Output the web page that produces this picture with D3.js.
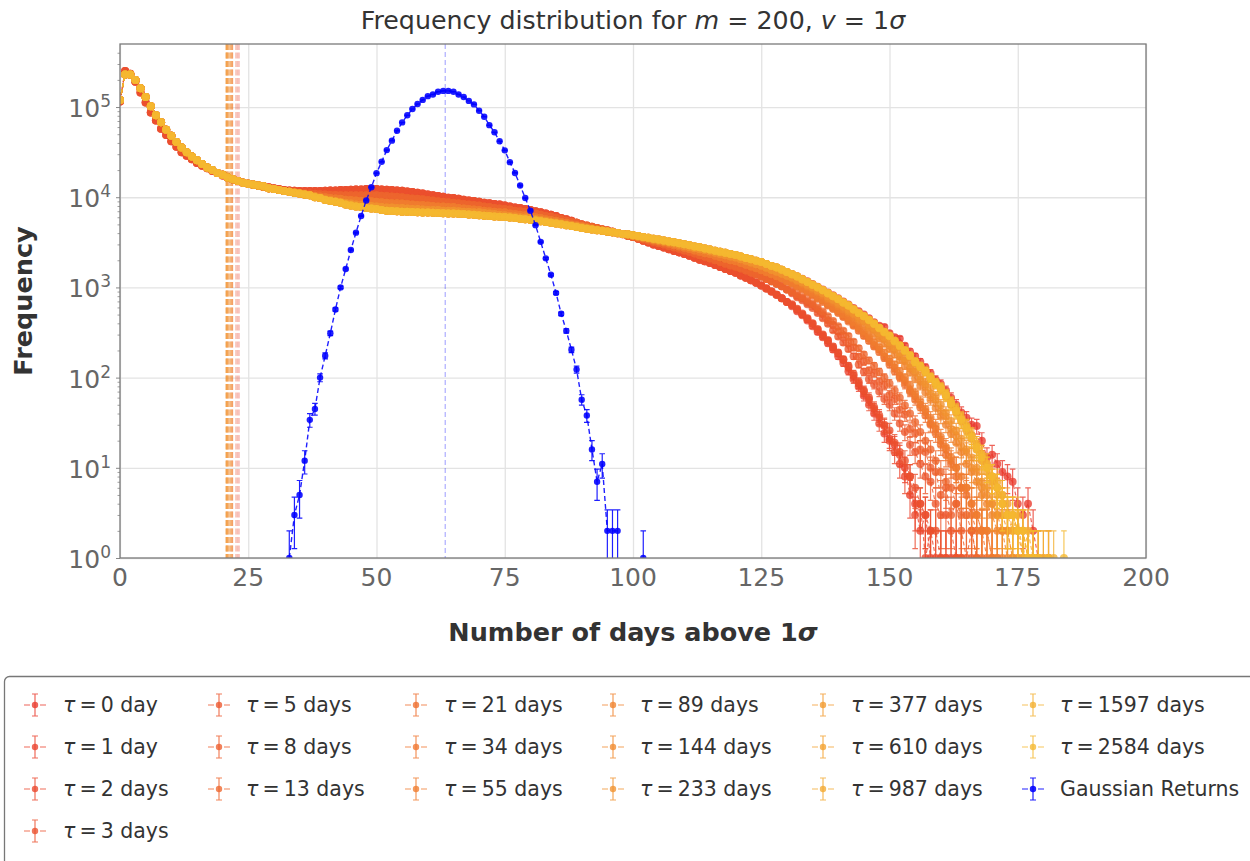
<!DOCTYPE html>
<html>
<head>
<meta charset="utf-8">
<script src="https://cdn.jsdelivr.net/npm/d3@7"></script>
<style>
  body { margin: 0; background: #fff; }
  svg { font-family: "DejaVu Sans", sans-serif; }
</style>
</head>
<body>
<svg></svg>
<script>
const width = 1250;
const height = 861;

// ---- data (counts per number of days) ----
const tauValues = [0, 1, 2, 3, 5, 8, 13, 21, 34, 55, 89, 144, 233, 377, 610, 987, 1597, 2584];
const tauMeans = [21.9, 23.2, 22.9, 22.6, 21.9, 21.7, 21.5, 21.2, 21.0, 20.9, 20.8, 20.7, 20.7, 20.8, 21.0, 21.3, 21.6, 21.9];

// days 0-24
const headLong = [120000, 229000, 229000, 200000, 162000, 129000, 102000, 81000, 68000, 56000,
  48000, 41000, 35500, 31600, 28200, 25700, 23400, 21400, 20000, 18600, 17800, 16600, 15800, 15100, 14500];
const headShort = [115000, 251000, 234000, 191000, 145000, 112000, 87000, 71000, 57500, 49000,
  41700, 36300, 31600, 28800, 26300, 24000, 22400, 20900, 19500, 18600, 17400, 16600, 15800, 15100, 14500];

// days 25-130
const bodyA = [14100, 13800, 13500, 13200, 12900, 12600, 12300, 12000, 11900, 11800,
  11700, 11700, 11700, 11700, 11700, 11800, 11900, 11900, 12000, 12000,
  12100, 12200, 12200, 12300, 12300, 12300, 12200, 12100, 12000, 11900,
  11800, 11600, 11400, 11200, 11000, 10700, 10500, 10300, 10100, 9900,
  9800, 9600, 9400, 9200, 9100, 8900, 8700, 8600, 8400, 8300,
  8100, 7900, 7700, 7600, 7400, 7200, 7000, 6800, 6600, 6400,
  6200, 5900, 5700, 5500, 5200, 5000, 4800, 4650, 4500, 4380,
  4270, 4150, 4000, 3900, 3750, 3630, 3470, 3300, 3150, 3000,
  2880, 2770, 2650, 2540, 2440, 2340, 2240, 2130, 2030, 1950,
  1860, 1770, 1680, 1600, 1520, 1450, 1360, 1280, 1200, 1130,
  1050, 970, 900, 830, 760, 690];
const bodyB = [14100, 13700, 13400, 13000, 12600, 12300, 12000, 11700, 11500, 11400,
  11200, 11100, 11000, 10900, 10800, 10700, 10600, 10600, 10500, 10500,
  10500, 10500, 10500, 10500, 10500, 10500, 10400, 10300, 10200, 10100,
  10000, 9800, 9700, 9600, 9500, 9300, 9200, 9000, 8900, 8800,
  8700, 8600, 8400, 8300, 8200, 8100, 7900, 7800, 7600, 7500,
  7400, 7300, 7100, 7000, 6900, 6800, 6600, 6400, 6200, 6100,
  5900, 5700, 5500, 5300, 5200, 5000, 4850, 4700, 4550, 4400,
  4270, 4130, 4000, 3880, 3750, 3630, 3520, 3400, 3290, 3190,
  3090, 2990, 2880, 2780, 2680, 2570, 2480, 2380, 2280, 2190,
  2090, 2000, 1910, 1830, 1750, 1700, 1620, 1540, 1460, 1390,
  1320, 1240, 1170, 1100, 1030, 950];
const bodyC = [14100, 13700, 13400, 13000, 12600, 12300, 12000, 11700, 11500, 11200,
  11000, 10800, 10600, 10400, 10200, 10000, 9800, 9700, 9600, 9400,
  9300, 9200, 9100, 9000, 9000, 8900, 8800, 8700, 8600, 8600,
  8500, 8400, 8300, 8200, 8200, 8100, 8000, 7900, 7900, 7800,
  7800, 7600, 7500, 7400, 7300, 7200, 7100, 7000, 6900, 6800,
  6800, 6600, 6500, 6400, 6300, 6200, 6000, 5900, 5700, 5600,
  5500, 5300, 5200, 5000, 4900, 4800, 4650, 4500, 4400, 4280,
  4170, 4080, 3980, 3900, 3800, 3720, 3620, 3520, 3420, 3320,
  3240, 3140, 3040, 2940, 2840, 2750, 2660, 2570, 2480, 2400,
  2340, 2250, 2160, 2080, 2000, 1950, 1860, 1780, 1710, 1630,
  1550, 1470, 1400, 1330, 1260, 1170];
const bodyD = [14100, 13700, 13400, 13000, 12600, 12300, 12000, 11700, 11500, 11200,
  11000, 10700, 10500, 10200, 9800, 9500, 9300, 9100, 8900, 8700,
  8500, 8300, 8200, 8100, 8000, 7900, 7800, 7700, 7700, 7600,
  7600, 7500, 7400, 7400, 7300, 7200, 7200, 7200, 7100, 7100,
  7100, 7000, 6900, 6900, 6800, 6800, 6700, 6600, 6500, 6400,
  6300, 6200, 6100, 6000, 5950, 5900, 5750, 5600, 5500, 5350,
  5250, 5100, 5000, 4900, 4800, 4680, 4560, 4450, 4350, 4260,
  4170, 4080, 3990, 3900, 3840, 3760, 3670, 3580, 3500, 3400,
  3310, 3230, 3150, 3060, 2970, 2880, 2800, 2720, 2650, 2580,
  2510, 2430, 2350, 2280, 2200, 2140, 2050, 1970, 1890, 1810,
  1740, 1650, 1560, 1490, 1420, 1350];
const bodyE = [14100, 13800, 13500, 13200, 12600, 12300, 12000, 11700, 11500, 11200,
  11000, 10700, 10500, 10000, 9800, 9300, 9100, 8900, 8700, 8300,
  8100, 7900, 7800, 7600, 7500, 7400, 7200, 7100, 7050, 7000,
  6900, 6900, 6850, 6800, 6780, 6760, 6720, 6690, 6650, 6620,
  6600, 6550, 6500, 6450, 6380, 6300, 6250, 6200, 6120, 6070,
  6030, 5950, 5870, 5780, 5700, 5620, 5520, 5420, 5320, 5220,
  5130, 5010, 4900, 4790, 4680, 4570, 4480, 4380, 4300, 4250,
  4170, 4080, 4000, 3910, 3880, 3800, 3720, 3630, 3550, 3460,
  3390, 3310, 3240, 3160, 3090, 3020, 2940, 2850, 2790, 2700,
  2630, 2550, 2480, 2420, 2350, 2290, 2200, 2120, 2050, 1980,
  1910, 1820, 1730, 1660, 1570, 1480];

// days 131 onwards
const tail0 = [1410, 1330, 1250, 1170, 1090, 1020, 950, 880, 820, 760, 700, 645, 590, 545, 500, 455, 410, 375, 365, 310,
  280, 270, 225, 195, 172, 150, 130, 112, 95, 85, 72, 60, 50, 41, 36, 30, 29, 20, 13, 14, 11, 9, 8, 7, 4, 3, 4, 2, 1, 0, 1];
const tail1 = [640, 545, 505, 430, 395, 320, 295, 240, 215, 172, 158, 118, 104, 79, 63, 57, 40, 36, 24, 21,
  18, 11, 10, 5, 4, 2, 3, 1, 0, 1, 0, 1];
const tail2 = [620, 570, 490, 450, 370, 340, 280, 255, 205, 185, 145, 130, 96, 85, 70, 50, 45, 31, 29, 20,
  15, 14, 8, 8, 3, 4, 1, 2, 1, 0, 1, 0, 1];
const tail3 = [650, 580, 515, 455, 400, 345, 300, 262, 222, 190, 160, 135, 110, 90, 72, 60, 47, 38, 30, 26,
  19, 15, 12, 8, 6, 4, 3, 2, 2, 1, 1, 0, 1, 1];
const tail5 = [860, 780, 720, 650, 590, 520, 455, 395, 335, 285, 245, 208, 172, 140, 116, 96, 84, 70, 58, 50,
  40, 31, 25, 18, 15, 11, 8, 7, 4, 3, 3, 2, 1, 1, 0, 1];
const tail8 = [885, 800, 760, 680, 640, 565, 505, 430, 385, 325, 295, 245, 215, 170, 150, 120, 112, 90, 82, 64,
  58, 44, 39, 27, 24, 16, 15, 10, 9, 5, 6, 3, 4, 2, 1, 2, 1];
const tail13 = [900, 840, 780, 720, 660, 600, 540, 480, 425, 370, 330, 290, 250, 212, 180, 155, 135, 116, 100, 86,
  72, 60, 49, 40, 32, 25, 20, 16, 12, 9, 7, 6, 4, 3, 3, 2, 1, 1];
const tail21 = [1090, 1020, 950, 880, 810, 750, 690, 630, 575, 520, 470, 420, 375, 330, 290, 255, 222, 192, 165, 140,
  118, 100, 84, 70, 57, 47, 38, 30, 24, 18, 14, 11, 8, 6, 5, 3, 2, 2, 1, 1];
const tail34 = [1110, 1030, 975, 895, 835, 760, 710, 640, 590, 540, 480, 440, 385, 350, 305, 270, 230, 205, 172, 150,
  128, 104, 92, 72, 62, 50, 42, 31, 27, 20, 16, 12, 10, 6, 6, 4, 3, 2, 2, 1, 1];
const tail55 = [1120, 1050, 990, 920, 860, 790, 730, 670, 615, 560, 505, 460, 410, 365, 325, 285, 250, 218, 190, 162,
  140, 118, 100, 82, 68, 55, 45, 36, 29, 22, 17, 13, 10, 8, 6, 4, 3, 2, 2, 1, 1, 1];
const tail89 = [1250, 1170, 1090, 1020, 950, 880, 810, 740, 680, 620, 570, 520, 470, 425, 380, 340, 305, 270, 238, 208,
  180, 157, 135, 115, 98, 82, 69, 57, 46, 37, 30, 24, 19, 15, 11, 9, 7, 5, 4, 3, 2, 2, 1, 1];
const tail144 = [1280, 1185, 1130, 1045, 990, 905, 850, 765, 715, 645, 605, 545, 505, 450, 415, 365, 335, 290, 265, 226,
  204, 172, 154, 128, 115, 93, 82, 64, 56, 42, 37, 27, 23, 17, 15, 10, 9, 6, 5, 4, 3, 2, 2, 1, 1];
const tail233 = [1290, 1210, 1140, 1070, 1000, 930, 865, 800, 735, 675, 620, 570, 520, 475, 430, 390, 350, 312, 278, 246,
  216, 190, 165, 143, 123, 105, 89, 75, 62, 50, 41, 33, 26, 21, 16, 13, 10, 7, 6, 4, 3, 3, 2, 1, 1, 1];
const tail377 = [1390, 1315, 1235, 1140, 1075, 995, 935, 850, 805, 735, 685, 625, 575, 515, 485, 430, 400, 350, 325, 285,
  258, 222, 203, 172, 153, 130, 120, 98, 89, 73, 66, 50, 45, 33, 29, 21, 18, 12, 11, 7, 6, 4, 4, 2, 2, 1, 1, 0, 1];
const tail610 = [1405, 1325, 1225, 1155, 1065, 1005, 925, 865, 795, 745, 675, 635, 565, 525, 475, 440, 390, 360, 315, 295,
  250, 230, 196, 178, 147, 136, 115, 103, 84, 79, 62, 54, 41, 36, 26, 23, 16, 14, 9, 8, 5, 5, 3, 3, 2, 2, 1, 1, 0, 1];
const tail987 = [1395, 1318, 1232, 1148, 1072, 998, 932, 858, 802, 738, 682, 628, 572, 518, 482, 433, 397, 353, 322, 288,
  257, 223, 202, 173, 152, 131, 119, 99, 88, 75, 65, 51, 44, 33, 29, 21, 18, 12, 11, 7, 7, 4, 3, 2, 3, 1, 2, 1, 0, 1, 1];
const tail1597 = [1402, 1322, 1228, 1152, 1068, 1002, 928, 862, 798, 742, 678, 632, 568, 522, 478, 437, 393, 357, 318, 292,
  253, 227, 198, 177, 148, 135, 116, 101, 86, 77, 63, 53, 42, 35, 27, 23, 16, 14, 10, 8, 6, 5, 3, 3, 2, 2, 1, 1, 1, 0, 0, 1];
const tail2584 = [1398, 1320, 1230, 1150, 1070, 1000, 930, 860, 800, 740, 680, 630, 570, 520, 480, 435, 395, 355, 320, 290,
  255, 225, 200, 175, 150, 133, 118, 100, 87, 76, 64, 52, 43, 34, 28, 22, 17, 13, 10, 8, 6, 4, 3, 3, 2, 2, 1, 1, 1, 0, 1, 0, 0, 1];

// Gaussian returns, days 33-102
const gaussStart = 33;
const gaussCounts = [1, 3, 5, 12, 34, 45, 100, 175, 310, 570,
  1000, 1600, 2600, 4050, 6200, 9200, 12900, 18500, 24700, 33300,
  42400, 54500, 67600, 81000, 95000, 108000, 120000, 132000, 138000, 148000,
  151000, 151000, 148000, 138000, 129000, 117000, 107000, 91000, 78000, 63000,
  52500, 41700, 33100, 24500, 18600, 13500, 9800, 7100, 4900, 3200,
  2100, 1380, 870, 510, 330, 204, 123, 57, 38, 16,
  7, 11, 2, 2, 2, 0, 0, 0, 0, 1];
const gaussMean = 63.4;

const tauCounts = [
  headLong.concat(bodyE, tail0),
  headShort.concat(bodyA, tail1),
  headShort.concat(bodyA, tail2),
  headShort.concat(bodyA, tail3),
  headLong.concat(bodyB, tail5),
  headLong.concat(bodyB, tail8),
  headLong.concat(bodyB, tail13),
  headLong.concat(bodyC, tail21),
  headLong.concat(bodyC, tail34),
  headLong.concat(bodyC, tail55),
  headLong.concat(bodyD, tail89),
  headLong.concat(bodyD, tail144),
  headLong.concat(bodyD, tail233),
  headLong.concat(bodyE, tail377),
  headLong.concat(bodyE, tail610),
  headLong.concat(bodyE, tail987),
  headLong.concat(bodyE, tail1597),
  headLong.concat(bodyE, tail2584)
];

// ---- scales ----
const x = d3.scaleLinear().domain([0, 200]).range([120, 1146]);
const y = d3.scaleLog().domain([1, 5e5]).range([558, 44]);
const tauColor = i => d3.interpolateRgb('#e9382c', '#f5b82f')(i / (tauValues.length - 1));
const gaussColor = '#0000ff';

const svg = d3.select('svg')
    .attr('width', width)
    .attr('height', height);

svg.append('rect').attr('width', width).attr('height', height).attr('fill', '#fff');

svg.append('defs').append('clipPath')
    .attr('id', 'plot-clip')
    .append('rect')
    .attr('x', 120).attr('y', 44)
    .attr('width', 1026).attr('height', 514);

// grid
svg.append('g')
    .attr('transform', 'translate(0,558)')
    .call(d3.axisBottom(x).tickValues(d3.range(0, 201, 25)).tickSize(-514).tickFormat(''))
    .call(g => g.select('.domain').remove())
    .call(g => g.selectAll('line').attr('stroke', '#e3e3e3').attr('stroke-width', 1.3));

const yMajor = [1, 10, 100, 1e3, 1e4, 1e5];
svg.append('g')
    .attr('transform', 'translate(120,0)')
    .call(d3.axisLeft(y).tickValues(yMajor).tickSize(-1026).tickFormat(''))
    .call(g => g.select('.domain').remove())
    .call(g => g.selectAll('line').attr('stroke', '#e3e3e3').attr('stroke-width', 1.3));

// minor ticks on the log axis
const yMinor = [];
yMajor.forEach(p => d3.range(2, 10).forEach(k => { if (p * k < 5e5) yMinor.push(p * k); }));
svg.append('g')
    .attr('transform', 'translate(120,0)')
    .call(d3.axisLeft(y).tickValues(yMinor).tickSize(2.5).tickFormat(''))
    .call(g => g.select('.domain').remove())
    .call(g => g.selectAll('line').attr('stroke', '#888').attr('stroke-width', 0.8));
svg.append('g')
    .attr('transform', 'translate(120,0)')
    .call(d3.axisLeft(y).tickValues(yMajor).tickSize(4).tickFormat(''))
    .call(g => g.select('.domain').remove())
    .call(g => g.selectAll('line').attr('stroke', '#888').attr('stroke-width', 1));

const plot = svg.append('g').attr('clip-path', 'url(#plot-clip)');

// mean lines
tauMeans.forEach((m, i) => {
  plot.append('line')
      .attr('x1', x(m)).attr('x2', x(m))
      .attr('y1', 44).attr('y2', 558)
      .attr('stroke', tauColor(i))
      .attr('stroke-opacity', 0.35)
      .attr('stroke-width', 1.5)
      .attr('stroke-dasharray', '6,2.5');
});
plot.append('line')
    .attr('x1', x(gaussMean)).attr('x2', x(gaussMean))
    .attr('y1', 44).attr('y2', 558)
    .attr('stroke', gaussColor)
    .attr('stroke-opacity', 0.3)
    .attr('stroke-width', 1.3)
    .attr('stroke-dasharray', '5,3');

function drawSeries(points, color, opts) {
  const g = plot.append('g');
  const line = d3.line()
      .defined(d => d.v > 0)
      .x(d => x(d.day))
      .y(d => y(d.v));
  g.append('path')
      .attr('d', line(points))
      .attr('fill', 'none')
      .attr('stroke', color)
      .attr('stroke-opacity', opts.alpha)
      .attr('stroke-width', opts.lw)
      .attr('stroke-dasharray', opts.dash);

  const shown = points.filter(d => d.v > 0);
  let bars = '';
  shown.forEach(d => {
    const e = Math.sqrt(d.v);
    const cx = x(d.day);
    const yt = y(d.v + e);
    const yb = y(Math.max(d.v - e, 0.01));
    bars += `M${cx},${yt}V${yb}M${cx - 2.8},${yt}H${cx + 2.8}M${cx - 2.8},${yb}H${cx + 2.8}`;
  });
  g.append('path')
      .attr('d', bars)
      .attr('fill', 'none')
      .attr('stroke', color)
      .attr('stroke-opacity', opts.alpha)
      .attr('stroke-width', 1.2);

  g.selectAll('circle')
      .data(shown)
      .enter()
      .append('circle')
      .attr('cx', d => x(d.day))
      .attr('cy', d => y(d.v))
      .attr('r', opts.r)
      .attr('fill', color)
      .attr('fill-opacity', opts.alpha);
}

tauCounts.forEach((counts, i) => {
  const pts = counts.map((v, day) => ({day, v}));
  drawSeries(pts, tauColor(i), {alpha: 0.78, lw: 1.2, dash: '4,2.5', r: 4});
});
drawSeries(gaussCounts.map((v, k) => ({day: gaussStart + k, v})), gaussColor,
    {alpha: 0.88, lw: 1.4, dash: '5,3', r: 3.2});

// frame
svg.append('rect')
    .attr('x', 120).attr('y', 44)
    .attr('width', 1026).attr('height', 514)
    .attr('fill', 'none')
    .attr('stroke', '#7a7a7a')
    .attr('stroke-width', 1.3);

// tick labels
svg.append('g').selectAll('text')
    .data(d3.range(0, 201, 25))
    .enter()
    .append('text')
    .attr('x', d => x(d))
    .attr('y', 586)
    .attr('text-anchor', 'middle')
    .attr('font-size', 25)
    .attr('fill', '#666')
    .text(d => d);

const yLabels = svg.append('g').selectAll('text')
    .data(yMajor)
    .enter()
    .append('text')
    .attr('x', 111)
    .attr('y', d => y(d) + 10)
    .attr('text-anchor', 'end')
    .attr('font-size', 25)
    .attr('fill', '#666');
yLabels.append('tspan').text('10');
yLabels.append('tspan')
    .attr('dy', -10)
    .attr('font-size', 17)
    .text(d => Math.round(Math.log10(d)));

// titles
const title = svg.append('text')
    .attr('x', 633)
    .attr('y', 29)
    .attr('text-anchor', 'middle')
    .attr('font-size', 25.3)
    .attr('fill', '#333');
title.append('tspan').text('Frequency distribution for ');
title.append('tspan').attr('font-style', 'italic').text('m');
title.append('tspan').text(' = 200, ');
title.append('tspan').attr('font-style', 'italic').text('v');
title.append('tspan').text(' = 1');
title.append('tspan').attr('font-style', 'italic').text('σ');

const xLabel = svg.append('text')
    .attr('x', 633)
    .attr('y', 641)
    .attr('text-anchor', 'middle')
    .attr('font-size', 25.5)
    .attr('font-weight', 'bold')
    .attr('fill', '#333');
xLabel.append('tspan').text('Number of days above 1');
xLabel.append('tspan').attr('font-style', 'italic').text('σ');

svg.append('text')
    .attr('transform', 'rotate(-90)')
    .attr('x', -301)
    .attr('y', 32)
    .attr('text-anchor', 'middle')
    .attr('font-size', 25.5)
    .attr('font-weight', 'bold')
    .attr('fill', '#333')
    .text('Frequency');

// legend
const legend = svg.append('g');
legend.append('rect')
    .attr('x', 4.5).attr('y', 676.5)
    .attr('width', 1300).attr('height', 260)
    .attr('rx', 5)
    .attr('fill', '#fff')
    .attr('stroke', '#777')
    .attr('stroke-width', 1.3);

const handleX = [35, 219, 416, 613, 823, 1033];
const textX = [63, 246, 444, 640, 851, 1060];
const entries = tauValues.map((t, i) => ({
  sym: 'τ',
  rest: `\u2009=\u20090 ${t <= 1 ? 'day' : 'days'}`.replace('0 ', `${t} `),
  color: tauColor(i),
  alpha: 0.78
}));
entries.push({sym: '', rest: 'Gaussian Returns', color: gaussColor, alpha: 0.88});

entries.forEach((e, i) => {
  const col = i < 4 ? 0 : Math.floor((i - 4) / 3) + 1;
  const row = i < 4 ? i : (i - 4) % 3;
  const hx = handleX[col];
  const cy = 705 + row * 42;
  const h = legend.append('g')
      .attr('stroke', e.color)
      .attr('stroke-opacity', e.alpha)
      .attr('stroke-width', 1.2);
  h.append('path').attr('d', `M${hx - 11},${cy}H${hx - 5}M${hx + 5},${cy}H${hx + 11}`);
  h.append('path').attr('d', `M${hx},${cy - 11}V${cy + 11}M${hx - 3},${cy - 11}H${hx + 3}M${hx - 3},${cy + 11}H${hx + 3}`);
  legend.append('circle')
      .attr('cx', hx).attr('cy', cy).attr('r', 3.2)
      .attr('fill', e.color).attr('fill-opacity', e.alpha);
  const t = legend.append('text')
      .attr('x', textX[col])
      .attr('y', cy + 7)
      .attr('font-size', 20.5)
      .attr('fill', '#333');
  if (e.sym) t.append('tspan').attr('font-style', 'italic').text(e.sym);
  t.append('tspan').text(e.rest);
});
</script>
</body>
</html>
